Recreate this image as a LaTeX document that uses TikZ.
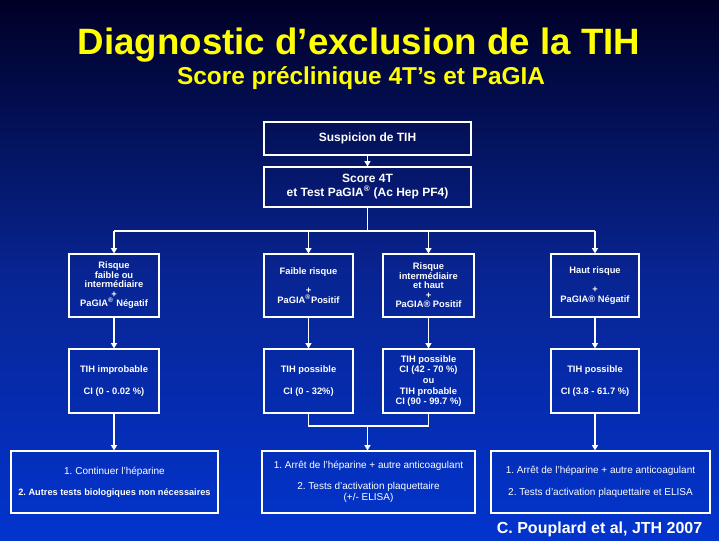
\documentclass[tikz,border=0pt]{standalone}
\usepackage{fontspec}
\setmainfont{Liberation Sans}
\frenchspacing
\usetikzlibrary{arrows.meta}

\definecolor{bgtop}{RGB}{0,0,38}
\definecolor{bgmid}{RGB}{8,36,145}
\definecolor{bgbot}{RGB}{2,52,206}
\definecolor{titleyellow}{RGB}{255,255,0}

\tikzset{
  box/.style={draw=white, line width=0.8pt, text=white, align=center, inner sep=1pt},
  topbox/.style={box, minimum width=155.25pt, font=\bfseries\fontsize{9}{10.5}\selectfont},
  riskbox/.style={box, minimum height=47.25pt, font=\bfseries\fontsize{7}{7.1}\selectfont},
  cibox/.style={box, minimum height=48pt, font=\bfseries\fontsize{7}{8}\selectfont},
  actbox/.style={box, minimum height=46.5pt, font=\fontsize{7.5}{8}\selectfont},
  link/.style={draw=white, line width=0.8pt},
  arr/.style={link, -{Triangle[width=4.5pt,length=4pt]}}
}

\begin{document}
\begin{tikzpicture}[x=0.75pt,y=-0.75pt]
  % background of the slide
  \shade[top color=bgtop, bottom color=bgbot, middle color=bgmid] (0,0) rectangle (719,541);

  % titles
  \node[text=titleyellow, font=\bfseries\fontsize{27.5}{30}\selectfont] (title) at (359,45)
    {Diagnostic d’exclusion de la TIH};
  \node[text=titleyellow, font=\bfseries\fontsize{18.3}{20}\selectfont] (subtitle) at (361,78)
    {Score préclinique 4T’s et PaGIA};

  % first two steps
  \node[topbox, minimum height=24.75pt] (susp) at (367.5,138.5) {Suspicion de TIH};
  \node[topbox, minimum height=30pt] (score) at (367.5,187)
    {Score 4T\\et Test PaGIA\textsuperscript{®} (Ac Hep PF4)};

  % risk classes
  \node[riskbox, minimum width=67.5pt] (r1) at (114,285.5)
    {Risque\\faible ou\\intermédiaire\\+\\PaGIA\textsuperscript{®} Négatif};
  \node[riskbox, minimum width=66.75pt] (r2) at (308.5,285.5)
    {Faible risque\\ \\+\\PaGIA\textsuperscript{®}Positif};
  \node[riskbox, minimum width=68.25pt] (r3) at (428.5,285.5)
    {Risque\\intermédiaire\\et haut\\+\\PaGIA® Positif};
  \node[riskbox, minimum width=66pt] (r4) at (595,285.5)
    {Haut risque\\ \\+\\PaGIA® Négatif};

  % probability of TIH
  \node[cibox, minimum width=67.5pt] (c1) at (114,381) {TIH improbable\\ \\CI (0 - 0.02 \%)};
  \node[cibox, minimum width=66.75pt] (c2) at (308.5,381) {TIH possible\\ \\CI (0 - 32\%)};
  \node[cibox, minimum width=68.25pt] (c3) at (428.5,381)
    {TIH possible\\CI (42 - 70 \%)\\ou\\TIH probable\\CI (90 - 99.7 \%)};
  \node[cibox, minimum width=66pt] (c4) at (595,381) {TIH possible\\ \\CI (3.8 - 61.7 \%)};

  % what to do
  \node[actbox, minimum width=155.25pt] (a1) at (114.5,482)
    {1. Continuer l’héparine\\ \\\textbf{\fontsize{6.9}{8}\selectfont 2. Autres tests biologiques non nécessaires}};
  \node[actbox, minimum width=159.75pt] (a2) at (368.5,482)
    {1. Arrêt de l’héparine + autre anticoagulant\\ \\2. Tests d’activation plaquettaire\\(+/- ELISA)};
  \node[actbox, minimum width=164.25pt] (a3) at (600.5,482)
    {1. Arrêt de l’héparine + autre anticoagulant\\ \\2. Tests d’activation plaquettaire et ELISA};

  \node[anchor=east, text=white, font=\bfseries\fontsize{12}{14}\selectfont] (ref) at (707,529)
    {C. Pouplard et al, JTH 2007};

  % connectors
  \coordinate (bus) at (367.5,231);
  \coordinate (join) at (367.5,426);
  \draw[arr] (susp) -- (score);
  \draw[link] (score.south) -- (bus);
  \draw[link] (r1.north |- bus) -- (r4.north |- bus);
  \foreach \n in {r1,r2,r3,r4} {
    \draw[arr] (\n.north |- bus) -- (\n.north);
  }
  \foreach \i in {1,2,3,4} {
    \draw[arr] (r\i.south) -- (c\i.north);
  }
  \draw[arr] (c1.south) -- (a1.north -| c1.south);
  \draw[link] (c2.south) |- (join) -| (c3.south);
  \draw[arr] (join) -- (join |- a2.north);
  \draw[arr] (c4.south) -- (c4.south |- a3.north);
\end{tikzpicture}
\end{document}
